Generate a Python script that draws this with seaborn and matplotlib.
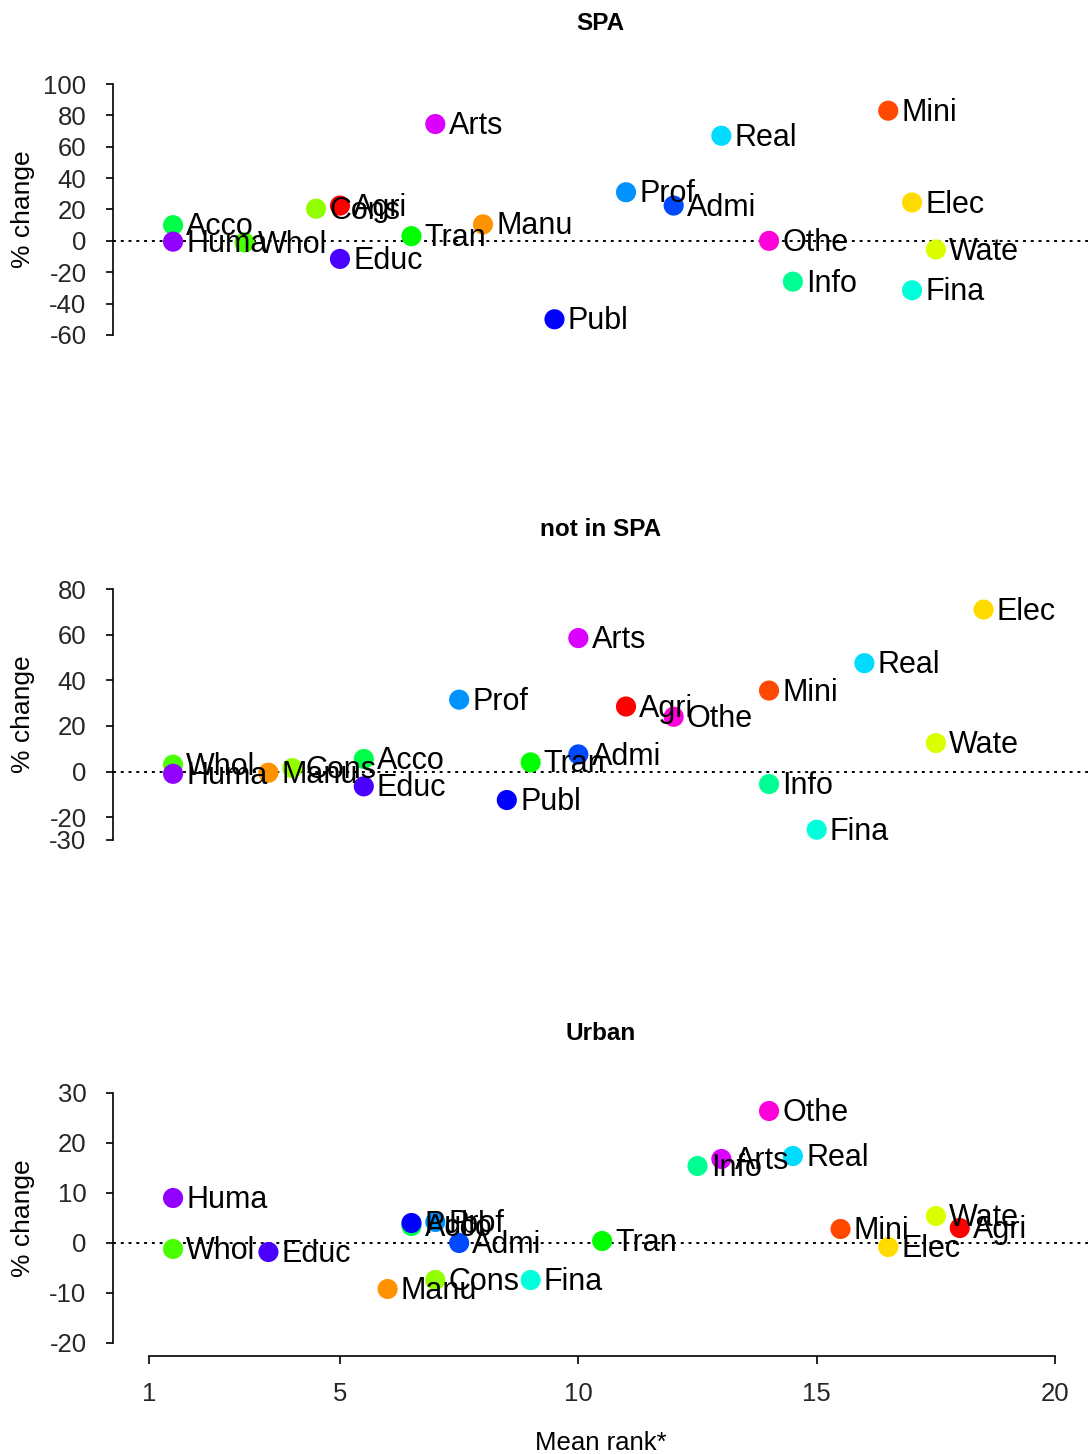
import matplotlib
matplotlib.use("Agg")
import matplotlib.pyplot as plt
import seaborn as sns
import pandas as pd

# Industry sections (abbreviated) and their colours
industries = ["Agri", "Mini", "Manu", "Elec", "Wate", "Cons", "Whol", "Tran", "Acco",
              "Info", "Fina", "Real", "Prof", "Admi", "Publ", "Educ", "Huma", "Arts", "Othe"]
colors = ["#FF0000", "#FF4900", "#FF9200", "#FFDB00", "#DBFF00", "#92FF00", "#49FF00",
          "#00FF00", "#00FF49", "#00FF92", "#00FFDB", "#00DBFF", "#0092FF", "#0049FF",
          "#0000FF", "#4900FF", "#9200FF", "#DB00FF", "#FF00DB"]

# SPA
spa_rank = [5.0, 16.5, 8.0, 17.0, 17.5, 4.5, 3.0, 6.5, 1.5,
            14.5, 17.0, 13.0, 11.0, 12.0, 9.5, 5.0, 1.5, 7.0, 14.0]
spa_change = [22.5, 83.0, 10.5, 24.5, -5.5, 20.5, -1.0, 3.0, 10.0,
              -26.0, -31.5, 67.0, 31.0, 22.5, -50.0, -11.5, -0.5, 74.5, 0.0]

# not in SPA
nspa_rank = [11.0, 14.0, 3.5, 18.5, 17.5, 4.0, 1.5, 9.0, 5.5,
             14.0, 15.0, 16.0, 7.5, 10.0, 8.5, 5.5, 1.5, 10.0, 12.0]
nspa_change = [28.5, 35.5, -0.5, 71.0, 12.5, 1.5, 3.0, 4.0, 5.5,
               -5.5, -25.5, 47.5, 31.5, 7.5, -12.5, -6.5, -1.0, 58.5, 24.0]

# Urban
urb_rank = [18.0, 15.5, 6.0, 16.5, 17.5, 7.0, 1.5, 10.5, 6.5,
            12.5, 9.0, 14.5, 7.0, 7.5, 6.5, 3.5, 1.5, 13.0, 14.0]
urb_change = [3.0, 2.8, -9.2, -0.8, 5.4, -7.4, -1.2, 0.4, 3.4,
              15.4, -7.4, 17.4, 4.2, 0.0, 4.0, -1.8, 9.0, 16.8, 26.4]

panels = [
    ("SPA", spa_rank, spa_change, [-60, -40, -20, 0, 20, 40, 60, 80, 100]),
    ("not in SPA", nspa_rank, nspa_change, [-30, -20, 0, 20, 40, 60, 80]),
    ("Urban", urb_rank, urb_change, [-20, -10, 0, 10, 20, 30]),
]
x_ticks = [1, 5, 10, 15, 20]

sns.set_theme(style="white")
plt.rcParams["font.family"] = ["Liberation Sans", "DejaVu Sans"]

W, H = 1088, 1454
fig = plt.figure(figsize=(W / 100, H / 100), dpi=100)
palette = dict(zip(industries, colors))

# axes boxes in pixels: (top, bottom)
boxes = [(74, 345), (579, 850), (1083, 1353)]
left_px, right_px = 113, 1088
title_gap = 52  # pixels from axes top to title centre

for (title, rank, change, yticks), (top, bot) in zip(panels, boxes):
    ax = fig.add_axes([left_px / W, 1 - bot / H, (right_px - left_px) / W, (bot - top) / H])
    df = pd.DataFrame({"industry": industries, "rank": rank, "change": change})
    ax.axhline(0, color="black", lw=1.4, ls=(0, (1.5, 2.5)), zorder=1)
    sns.scatterplot(data=df, x="rank", y="change", hue="industry", palette=palette,
                    s=210, linewidth=0, legend=False, ax=ax, zorder=3)
    for name, xv, yv in zip(industries, rank, change):
        ax.annotate(name, (xv, yv), xytext=(9.5, -1.5), textcoords="offset points",
                    ha="left", va="center", fontsize=22, color="black", zorder=4)

    lo, hi = yticks[0], yticks[-1]
    pad = 0.04 * (hi - lo)
    ax.set_ylim(lo - pad, hi + pad)
    ax.set_xlim(0.24, 20.69)
    ax.set_yticks(yticks)
    ax.set_yticklabels([str(t) for t in yticks])
    ax.spines["left"].set_bounds(lo, hi)
    for side in ("top", "right"):
        ax.spines[side].set_visible(False)
    ax.spines["left"].set_color("black")
    ax.spines["left"].set_linewidth(1.2)
    ax.tick_params(axis="y", direction="out", length=5, width=1.2, color="black",
                   pad=14, labelsize=18.5, left=True)
    ax.set_ylabel("% change", fontsize=19, color="black")
    ax.yaxis.set_label_coords(-0.08, 0.5)
    ax.text(0.5, 1 + (title_gap - 2) / (bot - top), title, transform=ax.transAxes,
            ha="center", va="center", fontsize=17.5, fontweight="bold", color="black")

    if title == "Urban":
        ax.spines["bottom"].set_bounds(1, 20)
        ax.spines["bottom"].set_color("black")
        ax.spines["bottom"].set_linewidth(1.2)
        ax.spines["bottom"].set_position(("outward", 2))
        ax.set_xticks(x_ticks)
        ax.set_xticklabels([str(t) for t in x_ticks])
        ax.tick_params(axis="x", direction="out", length=6, width=1.2, color="black",
                       pad=13, labelsize=18.5, bottom=True)
        ax.set_xlabel("Mean rank*", fontsize=18.5, color="black", labelpad=18)
    else:
        ax.spines["bottom"].set_visible(False)
        ax.set_xticks([])
        ax.set_xlabel("")

fig.savefig("out.png", dpi=100, facecolor="white")
